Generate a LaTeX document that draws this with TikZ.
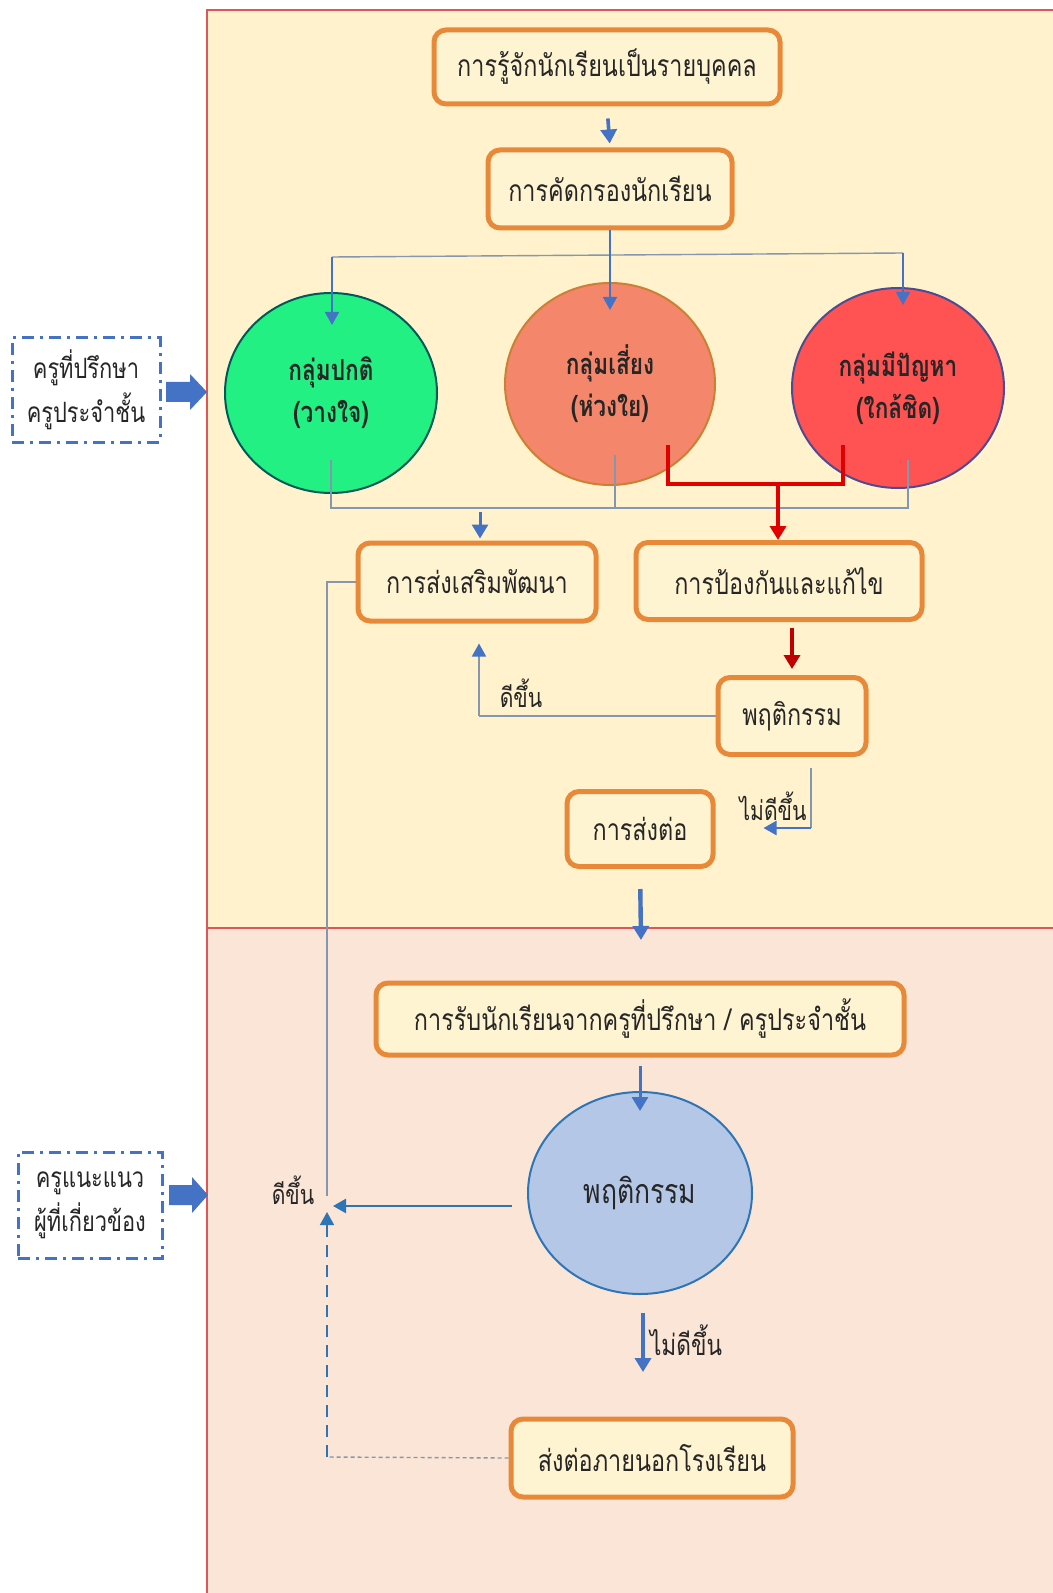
\documentclass[tikz,border=0pt]{standalone}
\usepackage{fontspec}
\usetikzlibrary{arrows.meta,shapes.geometric}
\newfontfamily\thai[Script=Thai,FakeStretch=0.78]{Loma}
\definecolor{panelA}{HTML}{FFF2CC}
\definecolor{panelB}{HTML}{FBE5D6}
\definecolor{panelline}{HTML}{E05555}
\definecolor{boxorange}{HTML}{E8893A}
\definecolor{boxfill}{HTML}{FFF4D2}
\definecolor{arrowblue}{HTML}{4472C4}
\definecolor{thinline}{HTML}{8497B0}
\definecolor{darkblue}{HTML}{2E75B6}
\definecolor{redline}{HTML}{E00000}
\definecolor{darkred}{HTML}{C00000}
\definecolor{cgreen}{HTML}{22F083}
\definecolor{csalmon}{HTML}{F4876B}
\definecolor{cred}{HTML}{FF5252}
\definecolor{cblue}{HTML}{B4C7E7}
\tikzset{
  stepbox/.style={draw=boxorange, line width=2.5pt, fill=boxfill, rounded corners=6pt,
    inner sep=0pt, font=\thai\fontsize{15pt}{18pt}\selectfont, text=black!85},
  grp/.style={ellipse, inner sep=0pt, line width=1pt,
    font=\thai\bfseries\fontsize{14.5pt}{21pt}\selectfont, align=center, text=black!85},
  sidebox/.style={draw=arrowblue, line width=1.5pt, dash pattern=on 6pt off 3pt on 1.5pt off 3pt,
    fill=white, inner sep=0pt, align=center, font=\thai\fontsize{14pt}{22pt}\selectfont, text=black!85},
  lbl/.style={font=\thai\fontsize{13.5pt}{15pt}\selectfont, text=black!85, inner sep=0pt},
  bluearrow/.style={draw=arrowblue, line width=1.5pt, -{Triangle[length=7pt,width=8pt]}},
  thinln/.style={draw=thinline, line width=0.7pt},
  tipblue/.style={-{Triangle[length=6.5pt,width=7pt,color=arrowblue]}},
}
\begin{document}
\begin{tikzpicture}[x=0.5pt,y=-0.5pt]
\useasboundingbox (0,0) rectangle (1053,1593);
\fill[white] (0,0) rectangle (1053,1593);
% panels
\draw[panelline, line width=1pt, fill=panelA] (207,10) rectangle (1070,928);
\draw[panelline, line width=1pt, fill=panelB] (207,928) rectangle (1070,1610);

% boxes
\node[stepbox, minimum width=173pt, minimum height=37pt] (b1) at (607,67) {การรู้จักนักเรียนเป็นรายบุคคล};
\node[stepbox, minimum width=122pt, minimum height=39pt] (b2) at (610,189) {การคัดกรองนักเรียน};
\node[stepbox, minimum width=119pt, minimum height=39pt] (b3) at (477,582) {การส่งเสริมพัฒนา};
\node[stepbox, minimum width=143pt, minimum height=38.5pt] (b4) at (779,581) {การป้องกันและแก้ไข};
\node[stepbox, minimum width=74pt, minimum height=38.5pt] (b5) at (792,716) {พฤติกรรม};
\node[stepbox, minimum width=73pt, minimum height=37.5pt] (b6) at (640,829) {การส่งต่อ};
\node[stepbox, minimum width=264pt, minimum height=36pt] (b7) at (640,1019) {การรับนักเรียนจากครูที่ปรึกษา / ครูประจำชั้น};
\node[stepbox, minimum width=141pt, minimum height=39pt] (b8) at (652,1458) {ส่งต่อภายนอกโรงเรียน};

% circles
\node[grp, draw=teal!70!black, fill=cgreen, minimum width=106pt, minimum height=100pt] (g1) at (331,393) {กลุ่มปกติ\\(วางใจ)};
\node[grp, draw=brown!80!orange, fill=csalmon, minimum width=105pt, minimum height=101pt] (g2) at (610,384) {กลุ่มเสี่ยง\\(ห่วงใย)};
\node[grp, draw=blue!40!black!70, fill=cred, minimum width=106pt, minimum height=100pt] (g3) at (898,388) {กลุ่มมีปัญหา\\(ใกล้ชิด)};
\node[grp, draw=darkblue, fill=cblue, minimum width=112pt, minimum height=101pt,
  font=\thai\fontsize{17pt}{20pt}\selectfont] (g4) at (640,1193) {พฤติกรรม};

% side boxes
\node[sidebox, minimum width=74pt, minimum height=52pt] (s1) at (86,390) {ครูที่ปรึกษา\\ครูประจำชั้น};
\node[sidebox, minimum width=72pt, minimum height=53pt] (s2) at (90,1205) {ครูแนะแนว\\ผู้ที่เกี่ยวข้อง};
\fill[arrowblue] (166,382) -- (190,382) -- (190,374) -- (207,392) -- (190,410) -- (190,402) -- (166,402) -- cycle;
\fill[arrowblue] (169,1185) -- (192,1185) -- (192,1177) -- (208,1195) -- (192,1213) -- (192,1205) -- (169,1205) -- cycle;

% coordinates
\coordinate (hL) at (332,257);
\coordinate (hR) at (903,253);
\coordinate (m2) at (610,255);
\coordinate (u1) at (331,508);
\coordinate (u3) at (908,508);
\coordinate (u2) at (615,508);
\coordinate (ua) at (480,508);
\coordinate (rL) at (668,484);
\coordinate (rR) at (843,484);
\coordinate (rm) at (778,484);
\coordinate (k1) at (479,716);
\coordinate (k2) at (811,828);
\coordinate (fb) at (327,582);
\coordinate (fbe) at (327,1196);
\coordinate (dk) at (327,1457);
\coordinate (gl) at (512,1206);
\coordinate (gle) at (333,1206);
\coordinate (gs) at (643,1313);
\coordinate (gse) at (643,1372);

% top flow
\draw[bluearrow, line width=1.8pt, shorten <=6pt, shorten >=2pt] (b1.south) -- (b2.north);
\draw[draw=arrowblue, line width=0.8pt] (b2.south) -- (m2);
\draw[thinln] (hL) -- (hR);
\draw[draw=arrowblue, line width=0.8pt, tipblue] (b2.south) -- (610,310);
\draw[draw=arrowblue, line width=0.8pt, tipblue] (hL) -- (332,325);
\draw[draw=arrowblue, line width=0.8pt, tipblue] (hR) -- (903,305);

% below circles
\draw[thinln] (331,460) -- (u1) -- (u3) -- (908,460);
\draw[thinln] (615,455) -- (u2);
\draw[bluearrow, shorten <=2pt, shorten >=1pt] (ua) -- (b3.north -| ua);
\draw[redline, line width=1.8pt] (668,445) -- (rL) -- (rR) -- (843,445);
\draw[redline, line width=1.8pt, -{Triangle[length=7pt,width=8pt]}] (rm) -- (b4.north -| rm);
\draw[darkred, line width=1.8pt, -{Triangle[length=7pt,width=8pt]}, shorten <=3pt, shorten >=3pt] (b4.south -| b5.north) -- (b5.north);

% behaviour loop
\draw[thinln] (b5.west) -- (k1);
\draw[thinln, tipblue, shorten >=10pt] (k1) -- (b3.south -| k1);
\node[lbl] (l1) at (521,693) {ดีขึ้น};
\draw[thinln] (811,768) -- (k2);
\draw[draw=arrowblue, line width=1.2pt, tipblue, shorten >=24pt] (k2) -- (b6.east |- k2);
\node[lbl] (l2) at (773,806) {ไม่ดีขึ้น};
\draw[draw=arrowblue, line width=2.2pt, -{Triangle[length=7pt,width=8pt]}, shorten <=10pt] (b6.south) -- (641,940);

% bottom flow
\draw[bluearrow, shorten <=4pt, shorten >=-10pt] (b7.south) -- (b7.south |- g4.north);
\draw[draw=darkblue, line width=1.2pt, -{Triangle[length=6.5pt,width=7pt]}] (gl) -- (gle);
\node[lbl] (l3) at (293,1190) {ดีขึ้น};
\draw[bluearrow, line width=2pt] (gs) -- (gse);
\node[lbl, font=\thai\fontsize{14.5pt}{16pt}\selectfont] (l4) at (686,1340) {ไม่ดีขึ้น};
\draw[thinline, line width=0.7pt, dash pattern=on 2pt off 1.5pt] (b8.west) -- (dk);
\draw[darkblue, line width=0.8pt, dash pattern=on 6pt off 4pt, -{Triangle[length=6.5pt,width=7pt]}] (dk) -- (327,1212);
\draw[thinln] (b3.west) -- (fb) -- (fbe);
\end{tikzpicture}
\end{document}
